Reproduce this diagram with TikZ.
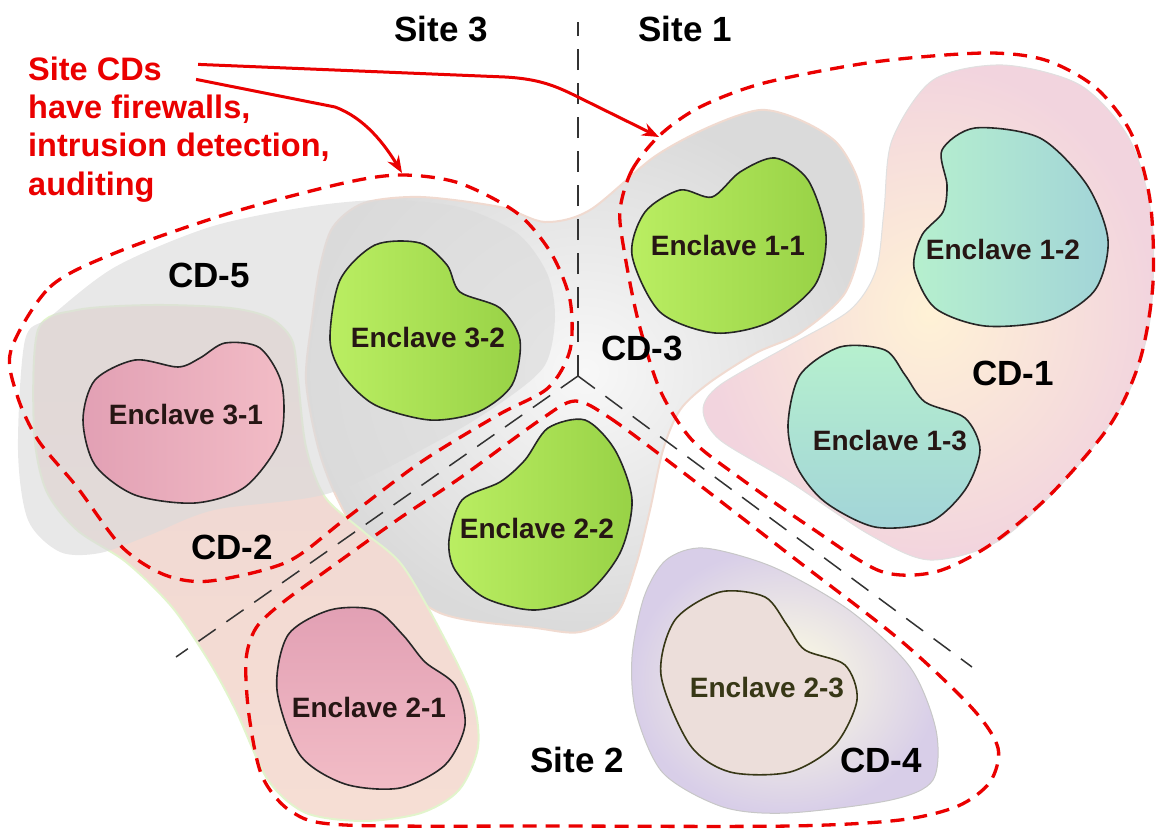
\documentclass[tikz,border=0pt]{standalone}
\usepackage{fontspec}
\setmainfont{Liberation Sans}
\usepackage{tikz}
\usetikzlibrary{arrows.meta, positioning}
\usepackage{xcolor}
\definecolor{sitered}{RGB}{234,0,0}
\definecolor{enctext}{RGB}{38,22,20}
\definecolor{enctextol}{RGB}{55,55,22}
\definecolor{encgreen}{RGB}{152,210,70}
\definecolor{encgreenlt}{RGB}{186,238,98}
\definecolor{encpink}{RGB}{226,160,180}
\definecolor{encpinklt}{RGB}{242,188,198}
\definecolor{encteal}{RGB}{162,212,216}
\definecolor{enctealg}{RGB}{182,240,206}
\definecolor{encbeige}{RGB}{236,222,218}
\definecolor{cdgray}{RGB}{218,218,218}
\definecolor{cdgraylt}{RGB}{248,248,248}
\definecolor{cdline}{RGB}{240,218,208}
\definecolor{cdgreenline}{RGB}{226,244,204}
\definecolor{cdtop}{RGB}{238,214,210}
\definecolor{cdcream}{RGB}{252,246,214}
\definecolor{cdbottom}{RGB}{246,222,212}
\definecolor{cdrose}{RGB}{242,212,222}
\definecolor{cdglow}{RGB}{255,242,214}
\definecolor{cdlav}{RGB}{216,206,232}
\definecolor{cdyellow}{RGB}{255,255,226}

\newcommand{\sitefont}{\fontsize{35}{40}\selectfont\bfseries}
\newcommand{\notefont}{\fontsize{32.5}{38.5}\selectfont\bfseries}
\newcommand{\encfont}{\fontsize{28}{30}\selectfont\bfseries}

\begin{document}
\begin{tikzpicture}[
    x=1pt, y=-1pt,
    sitelabel/.style={font=\sitefont, inner sep=0pt},
    enclabel/.style={font=\encfont, text=enctext, inner sep=0pt},
    notetext/.style={font=\notefont, text=sitered, inner sep=0pt, align=left},
    enclave/.style={draw=black!85, line width=1.6pt},
    cdbound/.style={draw=sitered, line width=3.3pt, dash pattern=on 14pt off 9pt},
    sitesplit/.style={draw=black!80, line width=1.5pt, dash pattern=on 21pt off 13pt},
    callout/.style={draw=sitered, line width=3pt, -{Stealth[length=17pt, width=13pt]}}
]
\useasboundingbox (0,0) rectangle (1156,830);

% control domains
\shadedraw[draw=cdline, line width=2pt, inner color=cdgraylt, outer color=cdgray]
  plot[smooth cycle] coordinates {(333,227) (364,203) (421,197) (500,207) (545,222) (590,210) (654,157) (709,127) (760,110) (800,120) (837,143) (859,183) (863,233) (845,293) (800,333) (756,353) (709,383) (680,410) (663,450) (650,510) (636,565) (617,613) (580,632) (536,628) (440,613) (375,560) (338,500) (318,447) (306,380) (312,320) (320,267)};
\shadedraw[draw=cdgreenline, line width=2pt, top color=cdtop, middle color=cdcream, bottom color=cdbottom]
  plot[smooth cycle] coordinates {(38,330) (77,310) (153,305) (230,308) (270,318) (292,340) (298,380) (306,447) (325,497) (364,532) (402,565) (440,630) (472,697) (478,747) (459,790) (421,813) (364,821) (306,813) (268,780) (237,713) (210,663) (172,607) (126,562) (77,530) (46,490) (34,430)};
\fill[black!14, fill opacity=0.65]
  plot[smooth cycle] coordinates {(25,340) (50,317) (115,267) (210,227) (306,207) (383,200) (459,207) (517,233) (547,273) (555,317) (545,365) (505,400) (440,440) (330,493) (214,510) (150,535) (100,553) (60,552) (28,520) (18,450)};
\shadedraw[draw=black!12, line width=1pt, inner color=cdglow, outer color=cdrose]
  plot[smooth cycle] coordinates {(933,80) (1003,65) (1080,85) (1130,140) (1152,220) (1150,320) (1125,400) (1070,475) (1000,540) (930,560) (870,535) (790,482) (720,440) (703,410) (720,385) (790,345) (850,310) (876,270) (884,210) (892,140)};
\shadedraw[draw=black!22, line width=1pt, inner color=cdyellow, outer color=cdlav]
  plot[smooth cycle] coordinates {(632,657) (644,597) (666,560) (704,548) (773,567) (849,610) (910,667) (936,730) (933,780) (891,800) (788,813) (723,807) (663,773) (636,713)};

% site borders
\coordinate (hub) at (578,376);
\coordinate (divtop) at (578,22);
\coordinate (divleft) at (176,657);
\coordinate (divright) at (972,667);
\draw[sitesplit] (hub) -- (divtop);
\draw[sitesplit] (hub) -- (divleft);
\draw[sitesplit] (hub) -- (divright);

% enclaves
\shadedraw[enclave, left color=encgreenlt, right color=encgreen]
  plot[smooth cycle] coordinates {(632,255) (645,212) (680,190) (712,197) (740,172) (775,158) (808,180) (826,235) (815,285) (770,322) (715,333) (660,312)};
\shadedraw[enclave, left color=enctealg, right color=encteal]
  plot[smooth cycle] coordinates {(942,150) (975,128) (1040,138) (1087,185) (1108,240) (1095,290) (1050,320) (985,326) (935,308) (914,268) (922,235) (943,212) (947,185)};
\shadedraw[enclave, top color=enctealg, bottom color=encteal]
  plot[smooth cycle] coordinates {(788,425) (800,375) (840,347) (885,350) (905,375) (925,402) (965,418) (980,450) (965,490) (930,522) (875,527) (825,502) (797,467)};
\shadedraw[enclave, left color=encgreenlt, right color=encgreen]
  plot[smooth cycle] coordinates {(330,340) (340,280) (375,245) (420,243) (447,265) (460,292) (500,308) (520,340) (512,385) (478,412) (430,420) (375,405) (343,375)};
\shadedraw[enclave, left color=encpink, right color=encpinklt]
  plot[smooth cycle] coordinates {(83,420) (95,380) (135,360) (178,367) (200,358) (225,343) (260,348) (282,385) (280,440) (245,487) (195,503) (135,495) (95,465)};
\shadedraw[enclave, left color=encgreenlt, right color=encgreen]
  plot[smooth cycle] coordinates {(449,540) (462,500) (500,482) (525,460) (548,428) (585,420) (615,450) (632,500) (620,553) (585,595) (535,610) (485,598) (455,570)};
\shadedraw[enclave, top color=encpink, bottom color=encpinklt]
  plot[smooth cycle] coordinates {(277,690) (288,635) (330,610) (375,610) (403,635) (425,662) (455,685) (465,725) (445,765) (400,788) (345,784) (300,755)};
\filldraw[enclave, draw=enctextol, fill=encbeige]
  plot[smooth cycle] coordinates {(661,675) (675,620) (720,592) (765,597) (787,625) (805,650) (845,665) (857,700) (835,745) (790,772) (730,772) (690,745)};

% site CD borders
\draw[cdbound] plot[smooth cycle] coordinates {(11,350) (50,287) (115,253) (230,213) (344,183) (402,175) (459,183) (517,213) (551,253) (570,300) (570,350) (548,388) (498,415) (421,462) (344,520) (287,562) (210,581) (165,575) (122,547) (77,487) (38,440) (17,395)};
\draw[cdbound] plot[smooth cycle] coordinates {(620,210) (632,170) (660,135) (700,107) (764,83) (874,62) (984,53) (1045,60) (1095,87) (1131,133) (1150,200) (1153,283) (1140,360) (1110,425) (1050,495) (990,545) (935,572) (880,571) (810,527) (740,478) (692,440) (660,390) (638,320) (624,250)};
\draw[cdbound] plot[smooth cycle] coordinates {(575,401) (610,418) (680,470) (790,555) (900,640) (972,708) (998,748) (990,782) (958,806) (900,820) (790,826) (560,826) (345,825) (292,812) (262,776) (249,715) (246,660) (256,628) (282,603) (330,568) (400,518) (460,478) (540,420)};

% labels
\node[sitelabel] (site3) at (441,29) {Site 3};
\node[sitelabel] (site1) at (685,29) {Site 1};
\node[sitelabel] (site2) at (577,760) {Site 2};
\node[sitelabel] (cd5) at (209,275) {CD-5};
\node[sitelabel] (cd3) at (642,348) {CD-3};
\node[sitelabel] (cd1) at (1013,373) {CD-1};
\node[sitelabel] (cd2) at (232,547) {CD-2};
\node[sitelabel] (cd4) at (881,760) {CD-4};

\node[enclabel] (enc11) at (728,245) {Enclave 1-1};
\node[enclabel] (enc12) at (1003,249) {Enclave 1-2};
\node[enclabel] (enc13) at (890,441) {Enclave 1-3};
\node[enclabel] (enc32) at (428,338) {Enclave 3-2};
\node[enclabel] (enc31) at (186,415) {Enclave 3-1};
\node[enclabel] (enc22) at (537,528) {Enclave 2-2};
\node[enclabel] (enc21) at (369,707) {Enclave 2-1};
\node[enclabel, text=enctextol] (enc23) at (767,688) {Enclave 2-3};

% note with callouts
\node[notetext, anchor=base west] (sitecds) at (28,80) {Site CDs};
\node[notetext, below=14pt of sitecds.south west, anchor=north west] (notebody) {have firewalls,\\intrusion detection,\\auditing};
\coordinate (tip1) at (659,137);
\coordinate (tip2) at (402,173);
\draw[callout] ([xshift=36pt, yshift=4pt]sitecds.east) -- (505,77) .. controls (540,79) and (556,86) .. (580,98) -- (tip1);
\draw[callout] ([xshift=34pt, yshift=-11pt]sitecds.east) -- (335,107) .. controls (365,118) and (385,145) .. (tip2);

\end{tikzpicture}
\end{document}
